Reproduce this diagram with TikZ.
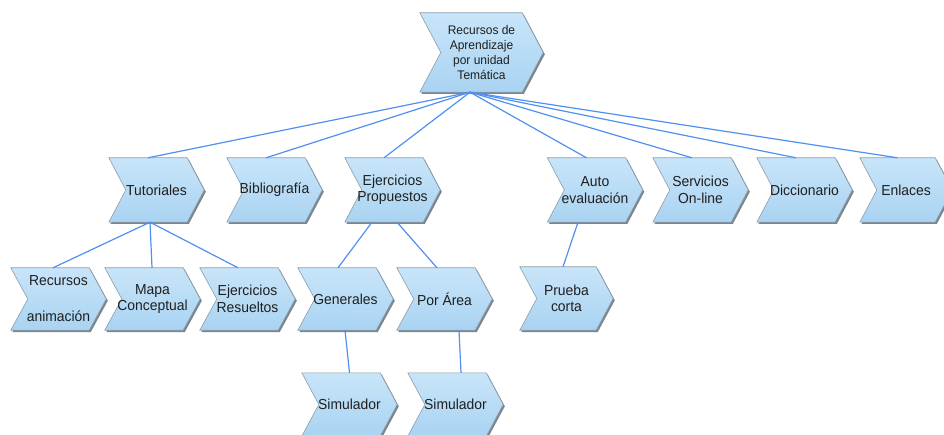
\documentclass[tikz,border=0pt]{standalone}
\usepackage{fontspec}
\newfontfamily\labelfont[FakeStretch=0.96]{Liberation Sans}
\usetikzlibrary{calc}
\pgfdeclarelayer{back}
\pgfsetlayers{back,main}
\definecolor{edgeblue}{HTML}{4F90F2}
\definecolor{chevtop}{HTML}{C8E5F9}
\definecolor{chevbot}{HTML}{A9D3F2}
\definecolor{chevline}{HTML}{8C9CAA}
\definecolor{chevshadow}{HTML}{5A6670}

\tikzset{
  % arrow-shaped box: notch on the left, point on the right (#1 = depth)
  chev/.style={rectangle, inner sep=1pt, align=center,
    minimum width=95pt, minimum height=63pt,
    font=\labelfont\fontsize{14.5}{16.5}\selectfont, text=black!88,
    append after command={\pgfextra{%
      \begin{pgfonlayer}{back}
        \fill[chevshadow, opacity=0.8, transform canvas={shift={(1.6pt,-1.8pt)}}]
          (\tikzlastnode.north west) -- ([xshift=-#1pt]\tikzlastnode.north east)
          -- (\tikzlastnode.east) -- ([xshift=-#1pt]\tikzlastnode.south east)
          -- (\tikzlastnode.south west) -- ([xshift=#1pt]\tikzlastnode.west) -- cycle;
        \shade[top color=chevtop, bottom color=chevbot, draw=chevline, line width=0.6pt]
          (\tikzlastnode.north west) -- ([xshift=-#1pt]\tikzlastnode.north east)
          -- (\tikzlastnode.east) -- ([xshift=-#1pt]\tikzlastnode.south east)
          -- (\tikzlastnode.south west) -- ([xshift=#1pt]\tikzlastnode.west) -- cycle;
      \end{pgfonlayer}}}},
  chev/.default=17,
  link/.style={draw=edgeblue, line width=1.2pt},
}

\begin{document}
\begin{tikzpicture}[x=1pt, y=-1pt]
  \useasboundingbox (0,0) rectangle (944,435);
  \clip (0,0) rectangle (944,435);

  % root
  \node[chev=21, minimum width=123pt, minimum height=79pt,
        font=\labelfont\fontsize{12.5}{15}\selectfont] (root) at (481.5,52.5)
        {Recursos de\\Aprendizaje\\por unidad\\Temática};

  % second level
  \node[chev, minimum height=64pt] (tut)  at (156.5,190) {Tutoriales};
  \node[chev, minimum height=64pt] (bib)  at (274.5,190) {Bibliografía};
  \node[chev, minimum height=64pt] (ejp)  at (392.5,190) {Ejercicios\\Propuestos};
  \node[chev, minimum height=64pt] (auto) at (595,190)   {Auto\\evaluación};
  \node[chev, minimum height=64pt] (serv) at (700.5,190) {Servicios\\On-line};
  \node[chev, minimum height=64pt] (dicc) at (804.5,190) {Diccionario};
  \node[chev, minimum height=64pt, minimum width=92pt] (enl) at (906,190) {Enlaces};

  % third level
  \node[chev, minimum height=62pt] (rec)    at (58.5,299)  {Recursos\\[19.5pt]animación};
  \node[chev, minimum height=62pt] (map)    at (152.5,299) {Mapa\\Conceptual};
  \node[chev, minimum height=62pt] (res)    at (247.5,299) {Ejercicios\\Resueltos};
  \node[chev, minimum height=62pt] (gen)    at (345.5,299) {Generales};
  \node[chev, minimum height=62pt] (area)   at (444.5,299) {Por Área};
  \node[chev, minimum height=63pt, minimum width=93pt] (prueba) at (566.5,298.5) {Prueba\\corta};

  % fourth level
  \node[chev] (sim1) at (349.5,404.5) {Simulador};
  \node[chev] (sim2) at (455.5,404.5) {Simulador};

  % connectors
  \foreach \n in {tut,bib,ejp,auto,serv,dicc,enl}
    \draw[link] ([xshift=-11.5pt]root.south) -- ([xshift=-8.5pt]\n.north);

  \draw[link] ([xshift=-6.5pt]tut.south) -- ([xshift=-5.5pt]rec.north);
  \draw[link] ([xshift=-6.5pt]tut.south) -- ([xshift=-0.5pt]map.north);
  \draw[link] ([xshift=-6.5pt]tut.south) -- ([xshift=-9.5pt]res.north);

  \draw[link] ([xshift=-20.5pt]ejp.south) -- ([xshift=-7.5pt]gen.north);
  \draw[link] ([xshift=4.5pt]ejp.south)   -- ([xshift=-7.5pt]area.north);

  \draw[link] ([xshift=-0.5pt]gen.south) -- ([xshift=0pt]sim1.north);
  \draw[link] ([xshift=14.5pt]area.south) -- ([xshift=5.5pt]sim2.north);

  \draw[link] ([xshift=-17pt]auto.south) -- ([xshift=-3.5pt]prueba.north);
\end{tikzpicture}
\end{document}
